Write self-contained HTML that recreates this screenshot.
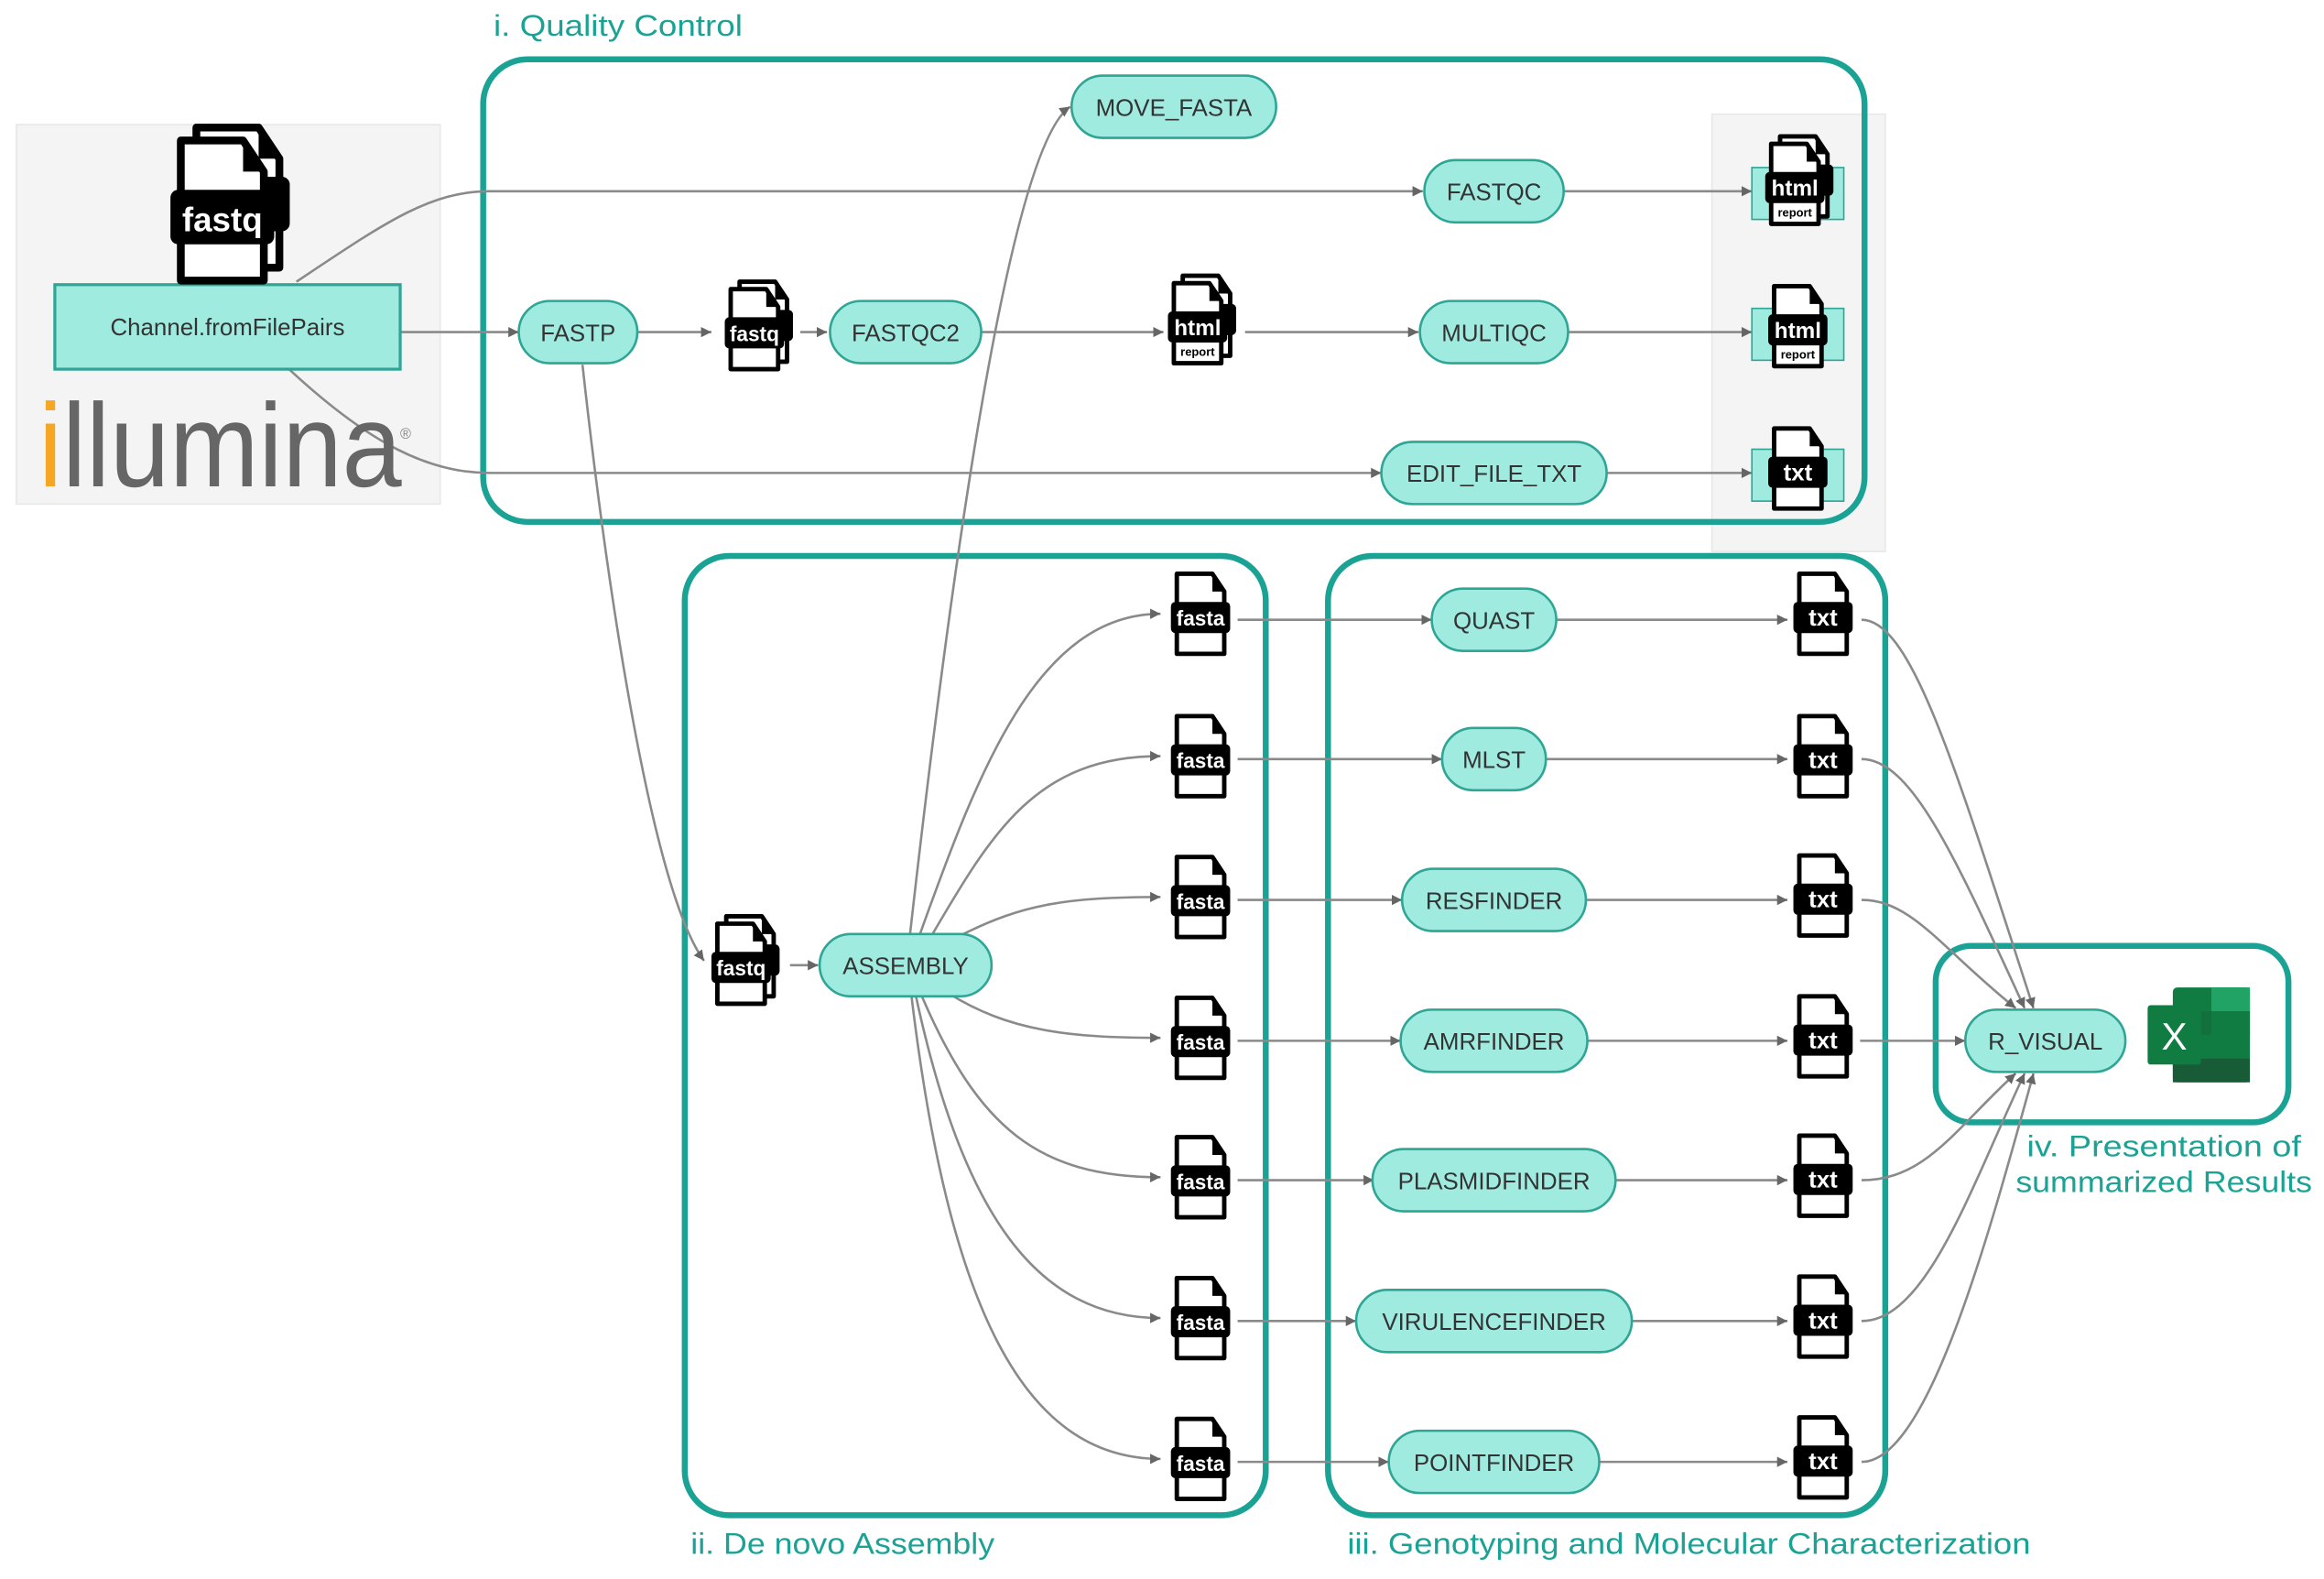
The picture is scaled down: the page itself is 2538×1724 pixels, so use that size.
<!DOCTYPE html>
<html><head><meta charset="utf-8"><style>html,body{margin:0;padding:0;background:#fff}svg{display:block}</style></head>
<body>
<svg width="2538" height="1724" viewBox="0 0 1568 1065" preserveAspectRatio="none" xmlns="http://www.w3.org/2000/svg" font-family="'Liberation Sans', sans-serif">
<defs>
<marker id="ar" markerWidth="8" markerHeight="8" refX="7" refY="4" orient="auto" markerUnits="userSpaceOnUse"><path d="M0,0.5 L7,4 L0,7.5 Z" fill="#666"/></marker>
<g id="doc"><path d="M-16,-27 H8 L16,-15 V27 H-16 Z" fill="#fff" stroke="#000" stroke-width="3" stroke-linejoin="round"/><path d="M8,-27 V-15 H16 Z" fill="#000"/><rect x="-20" y="-8" width="40" height="21" rx="3" fill="#000"/></g>
<g id="doc2"><use href="#doc" x="6" y="-5"/><use href="#doc"/></g>
</defs>

<rect x="11" y="84" width="286" height="256" fill="#f4f4f4" stroke="#e8e8e8"/>
<rect x="1155" y="77" width="117" height="295" fill="#f4f4f4" stroke="#e8e8e8"/>

<rect x="326" y="40" width="932" height="312" rx="30" fill="none" stroke="#1aa394" stroke-width="4"/>
<rect x="462" y="375" width="392" height="647" rx="30" fill="none" stroke="#1aa394" stroke-width="4"/>
<rect x="896" y="375" width="376" height="647" rx="30" fill="none" stroke="#1aa394" stroke-width="4"/>
<rect x="1306" y="638" width="238" height="119" rx="24" fill="none" stroke="#1aa394" stroke-width="4"/>

<g fill="#1aa394" font-size="20" lengthAdjust="spacingAndGlyphs">
<text x="333" y="24" textLength="168" lengthAdjust="spacingAndGlyphs">i. Quality Control</text>
<text x="466" y="1048" textLength="205" lengthAdjust="spacingAndGlyphs">ii. De novo Assembly</text>
<text x="909" y="1048" textLength="461" lengthAdjust="spacingAndGlyphs">iii. Genotyping and Molecular Characterization</text>
<text x="1460" y="780" text-anchor="middle" textLength="185" lengthAdjust="spacingAndGlyphs">iv. Presentation of</text>
<text x="1460" y="804" text-anchor="middle" textLength="200" lengthAdjust="spacingAndGlyphs">summarized Results</text>
</g>

<g fill="none" stroke="#8a8a8a" stroke-width="1.6" marker-end="url(#ar)">
<path d="M270,224 H350"/>
<path d="M200,190 C260,150 290,129 330,129 H960"/>
<path d="M195,249 C250,300 290,319 330,319 H932"/>
<path d="M430,224 H480"/>
<path d="M540,224 H558"/>
<path d="M662,224 H785"/>
<path d="M840,224 H957"/>
<path d="M1055,129 H1182"/>
<path d="M1058,224 H1182"/>
<path d="M1084,319 H1182"/>
<path d="M393,246 C410,400 440,600 475,648"/>
<path d="M533,651 H552"/>
<path d="M614,630 C640,400 680,100 722,72"/>
<path d="M620,632 C660,520 700,414 783,414"/>
<path d="M628,632 C670,560 700,510 783,510"/>
<path d="M650,630 C690,610 720,605 783,605"/>
<path d="M640,670 C680,695 720,700 783,700"/>
<path d="M622,672 C660,760 700,794 783,794"/>
<path d="M618,672 C650,820 700,889 783,889"/>
<path d="M615,672 C640,880 690,984 783,984"/>
<path d="M835,418 H966"/><path d="M835,512 H973"/><path d="M835,607 H946"/><path d="M835,702 H945"/><path d="M835,796 H927"/><path d="M835,891 H915"/><path d="M835,986 H937"/>
<path d="M1050,418 H1206"/><path d="M1043,512 H1206"/><path d="M1070,607 H1206"/><path d="M1071,702 H1206"/><path d="M1090,796 H1206"/><path d="M1101,891 H1206"/><path d="M1079,986 H1206"/>
<path d="M1255,702 H1326"/>
<path d="M1256,418 C1290,418 1320,520 1372,680"/>
<path d="M1256,512 C1290,512 1320,580 1366,680"/>
<path d="M1256,607 C1290,607 1310,640 1360,680"/>
<path d="M1256,796 C1300,796 1320,760 1360,724"/>
<path d="M1256,891 C1300,891 1330,800 1366,724"/>
<path d="M1256,986 C1300,986 1340,840 1372,724"/>
</g>

<rect x="37" y="192" width="233" height="57" fill="#a0ebe0" stroke="#2ea595" stroke-width="2"/>
<text x="153.5" y="226" text-anchor="middle" font-size="16" fill="#333">Channel.fromFilePairs</text>
<text x="26" y="328" font-size="80" fill="#666" textLength="245" lengthAdjust="spacingAndGlyphs"><tspan fill="#f5a623">i</tspan>llumina</text>
<text x="270" y="296" font-size="10" fill="#888">®</text>

<g transform="translate(150,142) scale(1.75)"><use href="#doc2"/><text x="0" y="8" fill="#fff" font-size="13" font-weight="bold" text-anchor="middle">fastq</text></g>

<g fill="#a0ebe0" stroke="#2ea595" stroke-width="1.6">
<rect x="723" y="51" width="138" height="42" rx="21"/>
<rect x="961" y="108" width="94" height="42" rx="21"/>
<rect x="350" y="203" width="80" height="42" rx="21"/>
<rect x="560" y="203" width="102" height="42" rx="21"/>
<rect x="958" y="203" width="100" height="42" rx="21"/>
<rect x="932" y="298" width="152" height="42" rx="21"/>
<rect x="553" y="630" width="116" height="42" rx="21"/>
<rect x="966" y="397" width="84" height="42" rx="21"/>
<rect x="973" y="491" width="70" height="42" rx="21"/>
<rect x="946" y="586" width="124" height="42" rx="21"/>
<rect x="945" y="681" width="126" height="42" rx="21"/>
<rect x="926" y="775" width="164" height="42" rx="21"/>
<rect x="915" y="870" width="186" height="42" rx="21"/>
<rect x="937" y="965" width="142" height="42" rx="21"/>
<rect x="1326" y="681" width="108" height="42" rx="21"/>
</g>
<g font-size="16" fill="#333" text-anchor="middle">
<text x="792" y="78">MOVE_FASTA</text>
<text x="1008" y="135">FASTQC</text>
<text x="390" y="230">FASTP</text>
<text x="611" y="230">FASTQC2</text>
<text x="1008" y="230">MULTIQC</text>
<text x="1008" y="325">EDIT_FILE_TXT</text>
<text x="611" y="657">ASSEMBLY</text>
<text x="1008" y="424">QUAST</text>
<text x="1008" y="518">MLST</text>
<text x="1008" y="613">RESFINDER</text>
<text x="1008" y="708">AMRFINDER</text>
<text x="1008" y="802">PLASMIDFINDER</text>
<text x="1008" y="897">VIRULENCEFINDER</text>
<text x="1008" y="992">POINTFINDER</text>
<text x="1380" y="708">R_VISUAL</text>
</g>

<g fill="#a0ebe0" stroke="#2ea595" stroke-width="1"><rect x="1182" y="113" width="62" height="35"/><rect x="1182" y="208" width="62" height="35"/><rect x="1182" y="303" width="62" height="35"/></g>

<g fill="#fff" font-weight="bold" text-anchor="middle">
<g transform="translate(509,222)"><use href="#doc2"/><text y="8" font-size="14">fastq</text></g>
<g transform="translate(500,650)"><use href="#doc2"/><text y="8" font-size="14">fastq</text></g>
<g transform="translate(808,218)"><use href="#doc2"/><text y="8" font-size="15">html</text><rect x="-13" y="14" width="26" height="9" fill="#fff"/><text y="22" font-size="8" fill="#000">report</text></g>
<g transform="translate(1211,124)"><use href="#doc2"/><text y="8" font-size="15">html</text><rect x="-13" y="14" width="26" height="9" fill="#fff"/><text y="22" font-size="8" fill="#000">report</text></g>
<g transform="translate(1213,220)"><use href="#doc"/><text y="8" font-size="15">html</text><rect x="-13" y="14" width="26" height="9" fill="#fff"/><text y="22" font-size="8" fill="#000">report</text></g>
<g transform="translate(1213,316)"><use href="#doc"/><text y="8" font-size="16">txt</text></g>
<g font-size="14">
<g transform="translate(810,414)"><use href="#doc"/><text y="8">fasta</text></g>
<g transform="translate(810,510)"><use href="#doc"/><text y="8">fasta</text></g>
<g transform="translate(810,605)"><use href="#doc"/><text y="8">fasta</text></g>
<g transform="translate(810,700)"><use href="#doc"/><text y="8">fasta</text></g>
<g transform="translate(810,794)"><use href="#doc"/><text y="8">fasta</text></g>
<g transform="translate(810,889)"><use href="#doc"/><text y="8">fasta</text></g>
<g transform="translate(810,984)"><use href="#doc"/><text y="8">fasta</text></g>
</g>
<g font-size="16">
<g transform="translate(1230,414)"><use href="#doc"/><text y="8">txt</text></g>
<g transform="translate(1230,510)"><use href="#doc"/><text y="8">txt</text></g>
<g transform="translate(1230,604)"><use href="#doc"/><text y="8">txt</text></g>
<g transform="translate(1230,699)"><use href="#doc"/><text y="8">txt</text></g>
<g transform="translate(1230,793)"><use href="#doc"/><text y="8">txt</text></g>
<g transform="translate(1230,888)"><use href="#doc"/><text y="8">txt</text></g>
<g transform="translate(1230,983)"><use href="#doc"/><text y="8">txt</text></g>
</g>
</g>

<g>
<rect x="1466" y="666" width="52" height="64" rx="3" fill="#107c41"/>
<rect x="1492" y="666" width="26" height="16" fill="#21a366"/>
<rect x="1466" y="682" width="52" height="16" fill="#185c37" opacity="0.35"/>
<rect x="1492" y="682" width="26" height="16" fill="#107c41"/>
<rect x="1466" y="714" width="52" height="16" fill="#185c37"/>
<rect x="1449" y="678" width="36" height="40" rx="2" fill="#107c41"/>
<text x="1467" y="708" font-size="26" fill="#fff" text-anchor="middle">X</text>
</g>
</svg>
</body></html>
